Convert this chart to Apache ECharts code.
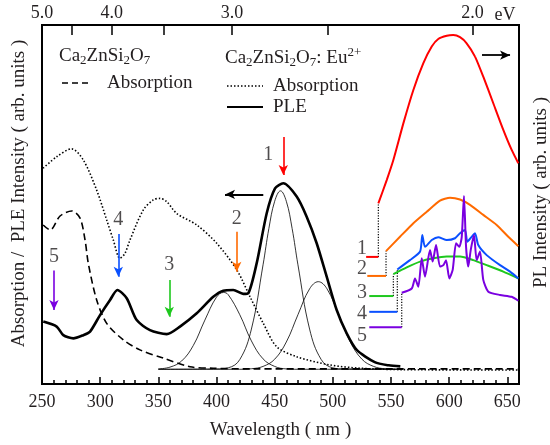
<!DOCTYPE html>
<html><head><meta charset="utf-8">
<script src="https://cdn.jsdelivr.net/npm/echarts@6/dist/echarts.min.js"></script>
<style>html,body{margin:0;padding:0;background:#fff}#c{width:550px;height:445px}</style>
</head><body><div id="c"></div>
<script>
// ---------- data (wavelength in nm, intensity in arbitrary units 0-100) ----------
const absUndopedNm  = [251, 257, 265.5, 275.5, 282.7, 287, 289.8, 297, 305.6, 319.9, 334.2, 354.3, 377.2, 397.2, 430, 500, 580, 660];
const absUndopedVal = [44.3, 42.9, 46.8, 48.2, 46.2, 40.1, 33.6, 23.4, 16.9, 12.3, 9.5, 7.2, 4.8, 4.4, 4.2, 4.2, 4.2, 4.2];

const absEuNm  = [251, 262.6, 275.5, 285.5, 297, 305.6, 311.3, 317, 321.3, 325.6, 337.1, 345.7, 351.4, 357.2, 365.8, 383, 400.2, 417.4, 428.8, 440.2, 451.7, 468.9, 497.6, 523.4, 560, 660];
const absEuVal = [60.1, 63.3, 65.5, 62.4, 54.0, 45.7, 40.1, 35.0, 36.4, 40.1, 48.5, 51.3, 51.7, 50.8, 47.5, 44.3, 39.2, 31.8, 24.3, 16.9, 10.4, 7.6, 5.3, 4.4, 4.0, 3.9];

const pleNm  = [251.1, 262.6, 268.3, 276.9, 285.5, 291.3, 299.9, 308.5, 314.8, 322.8, 331.4, 342.8, 357.2, 368.6, 383, 397.2, 405.8, 414.4, 423, 427.3, 434.5, 443.1, 450.3, 457.4, 468.9, 477.5, 486.1, 494.7, 503.3, 511.9, 520.5, 536, 548, 558];
const pleVal = [17.4, 16.0, 13.6, 12.7, 13.6, 14.6, 19.2, 23.4, 26.2, 23.9, 17.8, 15.0, 13.9, 16.0, 19.7, 24.3, 26.0, 26.2, 25.1, 25.3, 33.6, 47.5, 54.5, 55.9, 52.2, 46.6, 39.2, 29.9, 20.6, 14.1, 9.5, 6.1, 5.2, 4.9];

const gauss1Nm  = [350, 400, 410, 420, 430, 440, 445, 450, 455, 460, 465, 470, 480, 490, 500, 510, 560];
const gauss1Val = [4.1, 4.2, 4.5, 6.8, 15.3, 33.2, 43.3, 50.9, 53.8, 50.9, 43.3, 33.2, 15.3, 6.8, 4.5, 4.2, 4.1];
const gauss2Nm  = [350, 360, 370, 380, 390, 400, 406, 410, 420, 430, 440, 450, 460, 470, 560];
const gauss2Val = [4.2, 4.7, 6.4, 10.7, 17.8, 24.2, 25.5, 24.9, 19.3, 12.0, 7.0, 4.9, 4.2, 4.1, 4.1];
const gauss3Nm  = [350, 420, 430, 440, 450, 460, 470, 480, 487.5, 495, 505, 515, 525, 535, 545, 560];
const gauss3Val = [4.1, 4.1, 4.25, 4.9, 6.9, 11.7, 19.3, 26.5, 28.5, 26.5, 19.3, 11.7, 6.9, 4.9, 4.25, 4.1];

const pl1Nm  = [539.1, 546.3, 552, 560.6, 569.2, 577.7, 585, 590.6, 597.9, 603.5, 609.3, 615, 622.2, 629.3, 637.9, 646.5, 653.7, 659.4];
const pl1Val = [50.3, 56.8, 62.4, 72.6, 81.9, 89.3, 94.0, 96.1, 97.0, 97.2, 96.6, 94.9, 91.2, 85.6, 78.2, 70.8, 65.2, 61.5];
const pl2Nm  = [545.7, 557.7, 569.2, 580.7, 592.1, 600.7, 609.3, 617.9, 629.3, 640.8, 650.8, 659.4];
const pl2Val = [37.0, 41.0, 44.8, 48.0, 51.1, 51.9, 51.4, 49.9, 47.1, 44.3, 41.0, 38.4];
const pl3Nm  = [552, 563.5, 575, 586.4, 597.9, 609.3, 620.7, 632.2, 646.5, 659.4];
const pl3Val = [30.6, 32.5, 34.1, 35.0, 35.5, 35.5, 34.5, 33.1, 31.3, 29.4];
const pl4Nm  = [555.4, 566.3, 575, 576.9, 579.2, 585, 590.6, 597.9, 605, 609.3, 613.6, 615.6, 619.3, 622.2, 625, 632.2, 643.7, 652.3, 659.4];
const pl4Val = [31.9, 34.5, 36.9, 41.5, 38.2, 40.1, 40.9, 40.1, 40.6, 42.0, 42.9, 39.6, 41.0, 42.0, 38.7, 35.9, 33.1, 31.3, 29.4];
const pl5Nm  = [559.2, 567.8, 570.6, 573.5, 576.4, 579.2, 583.5, 585.8, 588.7, 592.1, 595, 597.3, 600.1, 603, 605.9, 608.7, 610.8, 612.7, 614.5, 616.4, 618.5, 621.3, 623.6, 626.5, 629.3, 633.6, 643.7, 653.7, 659.4];
const pl5Val = [25.4, 26.6, 29.4, 27.1, 35.0, 29.9, 37.3, 34.1, 38.7, 32.7, 33.1, 34.5, 29.4, 31.8, 39.2, 38.2, 41.0, 52.4, 38.2, 32.7, 37.3, 41.5, 34.5, 36.9, 29.0, 25.7, 24.8, 24.3, 23.2];

const plNames      = ['1', '2', '3', '4', '5'];
const plStepStart  = [528.6, 529.6, 531.3, 531.3, 531.3];
const plStepLevel  = [35.4, 30.1, 24.5, 20.1, 15.8];
const plLabelNm    = [525, 525, 525, 525, 525];
const plLabelVal   = [37.8, 32.0, 25.5, 19.7, 13.5];

const excNm        = [457.4, 417.4, 359.4, 315.6, 260.3];
const excArrowTop  = [68.8, 42.4, 29.0, 41.8, 31.6];
const excArrowBot  = [58.2, 31.3, 18.7, 29.9, 20.6];
const excLabelNm   = [444.5, 417.4, 359.4, 315.6, 260.3];
const excLabelVal  = [63.8, 46.0, 33.1, 45.7, 35.5];

const leftArrow  = [[440.2, 52.8], [407.3, 52.8]];
const rightArrow = [[628.2, 91.6], [652.3, 91.6]];

const xTicksNm   = [250, 300, 350, 400, 450, 500, 550, 600, 650];
const topTickEv  = [4.5, 4.0, 3.5, 3.0, 2.5, 2.0];
const topLabelEv = [5.0, 4.0, 3.0, 2.0];

// ---------- build ----------
const FONT = "'Liberation Serif', 'Times New Roman', serif";
const TXT = '#231f20';
const colors = ['#ff0000', '#ff6a00', '#1ec81e', '#0a50ff', '#7a00e0'];
const zip = (a, b) => a.map((v, i) => [v, b[i]]);
const plNmArr = [pl1Nm, pl2Nm, pl3Nm, pl4Nm, pl5Nm];
const plValArr = [pl1Val, pl2Val, pl3Val, pl4Val, pl5Val];
const XMIN = 250, XMAX = 660;
const topTickNm = topTickEv.map(e => 1240 / e);
const topLabelNm = topLabelEv.map(e => Math.max(XMIN, 1240 / e));

const series = [];
series.push({ type: 'line', name: 'abs undoped', data: zip(absUndopedNm, absUndopedVal), showSymbol: false, smooth: 0.3,
  lineStyle: { color: '#000', width: 1.6, type: [7, 4] }, z: 3 });
series.push({ type: 'line', name: 'abs Eu', data: zip(absEuNm, absEuVal), showSymbol: false, smooth: 0.3,
  lineStyle: { color: '#000', width: 1.6, type: [1.5, 2] }, z: 3 });
[[gauss1Nm, gauss1Val], [gauss2Nm, gauss2Val], [gauss3Nm, gauss3Val]].forEach((g, i) => {
  series.push({ type: 'line', name: 'gauss' + (i + 1), data: zip(g[0], g[1]), showSymbol: false, smooth: 0.4,
    lineStyle: { color: '#000', width: 0.8 }, z: 3 });
});
series.push({ type: 'line', name: 'PLE', data: zip(pleNm, pleVal), showSymbol: false, smooth: 0.25,
  lineStyle: { color: '#000', width: 2.6 }, z: 4 });

plNames.forEach((n, i) => {
  const nm = plNmArr[i], val = plValArr[i];
  series.push({ type: 'line', name: 'PL ' + n, data: zip(nm, val), showSymbol: false, smooth: 0.2,
    lineStyle: { color: colors[i], width: 2 }, z: 6,
    markLine: { silent: true, symbol: ['none', 'arrow'], symbolSize: [7, 10], label: { show: false },
      lineStyle: { color: colors[i], width: 1.6, type: 'solid' },
      data: [[{ coord: [excNm[i], excArrowTop[i]] }, { coord: [excNm[i], excArrowBot[i]] }]] } });
  series.push({ type: 'line', name: 'step ' + n, data: [[plStepStart[i], plStepLevel[i]], [nm[0], plStepLevel[i]]],
    showSymbol: false, lineStyle: { color: colors[i], width: 2 }, z: 6 });
  series.push({ type: 'line', name: 'conn ' + n, data: [[nm[0], plStepLevel[i]], [nm[0], val[0]]],
    showSymbol: false, lineStyle: { color: '#000', width: 1.2, type: [1.2, 1.5] }, z: 5 });
});

series.push({ type: 'scatter', name: 'exc labels', symbolSize: 0, z: 7,
  data: excLabelNm.map((x, i) => ({ value: [x, excLabelVal[i]], label: { formatter: plNames[i] } })),
  label: { show: true, position: 'inside', fontFamily: FONT, fontSize: 20, color: TXT } });
series.push({ type: 'scatter', name: 'pl labels', symbolSize: 0, z: 7,
  data: plLabelNm.map((x, i) => ({ value: [x, plLabelVal[i]], label: { formatter: plNames[i] } })),
  label: { show: true, position: 'inside', fontFamily: FONT, fontSize: 20, color: TXT } });
series.push({ type: 'line', name: 'axis arrows', data: [], z: 7,
  markLine: { silent: true, symbol: ['none', 'arrow'], symbolSize: [7, 10], label: { show: false },
    lineStyle: { color: '#000', width: 1.8, type: 'solid' },
    data: [[{ coord: leftArrow[0] }, { coord: leftArrow[1] }], [{ coord: rightArrow[0] }, { coord: rightArrow[1] }]] } });

const rich = {
  n: { fontFamily: FONT, fontSize: 19, color: TXT, lineHeight: 24 },
  s: { fontFamily: FONT, fontSize: 13, color: TXT, lineHeight: 13, padding: [10, 0, 0, 0] },
  p: { fontFamily: FONT, fontSize: 13, color: TXT, lineHeight: 13, padding: [0, 0, 10, 0] }
};
const txt = (x, y, text) => ({ type: 'text', x, y, z: 20,
  style: { text, rich, fontFamily: FONT, fontSize: 19, fill: TXT, verticalAlign: 'middle', align: 'left' } });
const seg = (x1, x2, y, dash, w) => ({ type: 'line', z: 20, shape: { x1, y1: y, x2, y2: y },
  style: { stroke: '#000', lineWidth: w, lineDash: dash } });

const graphic = [
  txt(59, 56, '{n|Ca}{s|2}{n|ZnSi}{s|2}{n|O}{s|7}'),
  seg(62, 92, 83, [6, 4], 1.6),
  txt(107, 83, '{n|Absorption}'),
  txt(225, 58, '{n|Ca}{s|2}{n|ZnSi}{s|2}{n|O}{s|7}{n|: Eu}{p|2+}'),
  seg(227, 263, 86, [1.5, 2], 1.6),
  txt(273, 86, '{n|Absorption}'),
  seg(227, 263, 107, null, 2),
  txt(273, 107, '{n|PLE}'),
  { type: 'text', x: 505, y: 15, z: 20, style: { text: 'eV', fontFamily: FONT, fontSize: 18, fill: TXT, align: 'center', verticalAlign: 'middle' } }
];

const tickLine = { color: '#000', width: 1.5 };
const option = {
  animation: false,
  backgroundColor: '#fff',
  grid: { left: 42, right: 31, top: 25, bottom: 61, show: true, borderColor: '#000', borderWidth: 2,
    backgroundColor: 'transparent', containLabel: false, outerBoundsMode: 'none' },
  xAxis: [
    { type: 'value', position: 'bottom', min: XMIN, max: XMAX, interval: 50,
      axisLine: { show: false }, splitLine: { show: false },
      axisTick: { inside: true, length: 7, lineStyle: tickLine },
      axisLabel: { fontFamily: FONT, fontSize: 18, color: TXT, margin: 9, showMaxLabel: false,
        formatter: v => xTicksNm.includes(v) ? String(v) : '' },
      name: 'Wavelength ( nm )', nameLocation: 'middle', nameGap: 37,
      nameTextStyle: { fontFamily: FONT, fontSize: 19, color: TXT } },
    { type: 'value', position: 'bottom', min: XMIN, max: XMAX, interval: 10,
      axisLine: { show: false }, splitLine: { show: false }, axisLabel: { show: false },
      axisTick: { inside: true, length: 4, lineStyle: tickLine } },
    { type: 'value', position: 'top', min: XMIN, max: XMAX,
      axisLine: { show: false }, splitLine: { show: false },
      axisTick: { inside: true, length: 10, customValues: topTickNm, lineStyle: tickLine },
      axisLabel: { customValues: topLabelNm, fontFamily: FONT, fontSize: 18, color: TXT, margin: 3,
        formatter: v => (Math.round(1240 / v * 10) / 10).toFixed(1) } }
  ],
  yAxis: [
    { type: 'value', position: 'left', min: 0, max: 100, axisLine: { show: false }, axisTick: { show: false },
      axisLabel: { show: false }, splitLine: { show: false },
      name: 'Absorption /  PLE Intensity ( arb. units )', nameLocation: 'middle', nameGap: 13, nameRotate: 90,
      nameTextStyle: { fontFamily: FONT, fontSize: 19, color: TXT, padding: [0, 0, 0, 22] } },
    { type: 'value', position: 'right', min: 0, max: 100, axisLine: { show: false }, axisTick: { show: false },
      axisLabel: { show: false }, splitLine: { show: false },
      name: 'PL Intensity ( arb. units )', nameLocation: 'middle', nameGap: 13, nameRotate: 90,
      nameTextStyle: { fontFamily: FONT, fontSize: 19, color: TXT, padding: [0, 0, 0, 24] } }
  ],
  series,
  graphic
};
const chart = echarts.init(document.getElementById('c'), null, { renderer: 'canvas' });
chart.setOption(option);
</script></body></html>
